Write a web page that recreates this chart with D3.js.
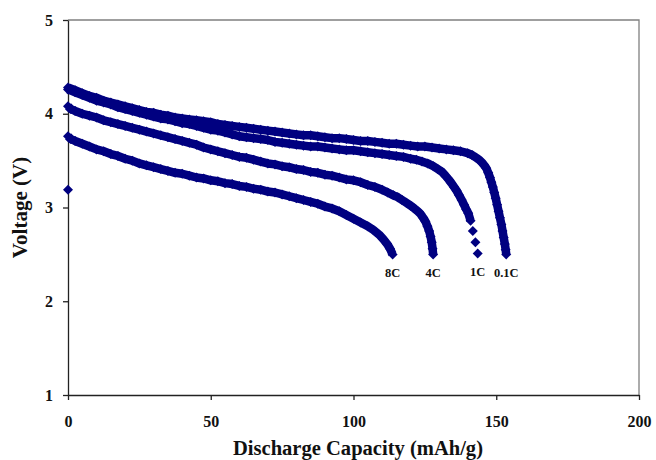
<!DOCTYPE html>
<html>
<head>
<meta charset="utf-8">
<script src="https://cdn.jsdelivr.net/npm/d3@7"></script>
<style>
	body { margin: 0; background: #fff; }
	svg { display: block; }
</style>
</head>
<body>
<script>
// discharge curves, [capacity mAh/g, voltage V]
const rate01C = [
	[0, 4.28], [2.5, 4.25], [5, 4.22], [7.5, 4.19], [10, 4.17], [12.5, 4.14], [15, 4.12], [17.5, 4.10],
	[20, 4.08], [22.5, 4.06], [25, 4.04], [27.5, 4.02], [30, 4.01], [32.5, 3.99], [35, 3.98], [37.5, 3.96],
	[40, 3.95], [42.5, 3.94], [45, 3.93], [47.5, 3.92], [50, 3.91], [52.5, 3.89], [55, 3.88], [57.5, 3.87],
	[60, 3.86], [62.5, 3.85], [65, 3.84], [67.5, 3.83], [70, 3.82], [72.5, 3.81], [75, 3.80], [77.5, 3.79],
	[80, 3.78], [82.5, 3.77], [85, 3.77], [87.5, 3.76], [90, 3.75], [92.5, 3.74], [95, 3.74], [97.5, 3.73],
	[100, 3.72], [102.5, 3.71], [105, 3.71], [107.5, 3.70], [110, 3.69], [112.5, 3.68], [115, 3.68], [117.5, 3.67],
	[120, 3.66], [122.5, 3.65], [125, 3.65], [127.5, 3.64], [130, 3.63], [132.5, 3.62], [135, 3.61], [137.5, 3.60],
	[140, 3.58], [141.5, 3.56], [143, 3.53], [144, 3.51], [145, 3.48], [145.8, 3.45], [146.5, 3.42], [147.2, 3.37],
	[147.8, 3.32], [148.3, 3.27], [148.8, 3.22], [149.3, 3.16], [149.8, 3.10], [150.3, 3.03], [150.8, 2.96],
	[151.3, 2.89], [151.8, 2.82], [152.2, 2.75], [152.6, 2.68], [153, 2.61], [153.3, 2.55], [153.5, 2.50]
];
const rate1C = [
	[0, 4.26], [2.5, 4.23], [5, 4.20], [7.5, 4.17], [10, 4.14], [12.5, 4.12], [15, 4.10], [17.5, 4.07],
	[20, 4.05], [22.5, 4.03], [25, 4.01], [27.5, 3.99], [30, 3.97], [32.5, 3.95], [35, 3.94], [37.5, 3.92],
	[40, 3.90], [42.5, 3.89], [45, 3.87], [47.5, 3.85], [50, 3.83], [52.5, 3.82], [55, 3.80], [57.5, 3.78],
	[60, 3.76], [62.5, 3.75], [65, 3.74], [67.5, 3.73], [70, 3.72], [72.5, 3.70], [75, 3.69], [77.5, 3.68],
	[80, 3.67], [82.5, 3.66], [85, 3.65], [87.5, 3.65], [90, 3.64], [92.5, 3.63], [95, 3.62], [97.5, 3.61],
	[100, 3.61], [102.5, 3.60], [105, 3.59], [107.5, 3.58], [110, 3.57], [112.5, 3.56], [115, 3.55], [117.5, 3.54],
	[120, 3.52], [122, 3.51], [124, 3.49], [126, 3.47], [128, 3.44], [129.5, 3.41], [131, 3.38], [132.2, 3.34],
	[133.3, 3.30], [134.3, 3.26], [135.2, 3.22], [136.1, 3.18], [137, 3.13], [137.9, 3.08], [138.7, 3.03],
	[139.5, 2.98], [140.2, 2.94], [141, 2.86], [141.8, 2.75], [142.7, 2.63], [143.5, 2.51]
];
const rate4C = [
	[0, 4.08], [1, 4.05], [2.5, 4.03], [5, 4.00], [7.5, 3.98], [10, 3.96], [12.5, 3.93], [15, 3.91],
	[17.5, 3.89], [20, 3.87], [22.5, 3.85], [25, 3.83], [27.5, 3.81], [30, 3.79], [32.5, 3.77], [35, 3.75],
	[37.5, 3.73], [40, 3.71], [42.5, 3.69], [45, 3.67], [47.5, 3.64], [50, 3.62], [52.5, 3.60], [55, 3.58],
	[57.5, 3.56], [60, 3.54], [62.5, 3.53], [65, 3.51], [67.5, 3.49], [70, 3.47], [72.5, 3.46], [75, 3.44],
	[77.5, 3.43], [80, 3.41], [82.5, 3.40], [85, 3.38], [87.5, 3.37], [90, 3.35], [92.5, 3.34], [95, 3.32],
	[97.5, 3.30], [100, 3.29], [102.5, 3.27], [105, 3.24], [107.5, 3.22], [110, 3.19], [112, 3.16], [114, 3.13],
	[115.5, 3.11], [117, 3.08], [118.5, 3.05], [120, 3.02], [121.3, 2.99], [122.5, 2.96], [123.5, 2.93],
	[124.4, 2.89], [125.2, 2.85], [125.9, 2.80], [126.5, 2.75], [127, 2.69], [127.4, 2.63], [127.7, 2.56], [127.9, 2.50]
];
const rate8C = [
	[0, 3.19], [0, 3.76], [1, 3.73], [2.5, 3.71], [5, 3.68], [7.5, 3.65], [10, 3.62], [12.5, 3.60], [15, 3.57],
	[17.5, 3.55], [20, 3.52], [22.5, 3.50], [25, 3.47], [27.5, 3.45], [30, 3.43], [32.5, 3.41], [35, 3.39],
	[37.5, 3.37], [40, 3.36], [42.5, 3.34], [45, 3.32], [47.5, 3.31], [50, 3.29], [52.5, 3.28], [55, 3.26],
	[57.5, 3.25], [60, 3.23], [62.5, 3.22], [65, 3.20], [67.5, 3.19], [70, 3.17], [72.5, 3.16], [75, 3.14],
	[77.5, 3.12], [80, 3.10], [82.5, 3.08], [85, 3.06], [87.5, 3.04], [90, 3.01], [92.5, 2.99], [95, 2.96],
	[97.5, 2.92], [100, 2.88], [102.5, 2.84], [105, 2.80], [107, 2.76], [109, 2.71], [110.5, 2.66],
	[111.8, 2.61], [112.8, 2.56], [113.7, 2.50]
];
const seriesList = [rate01C, rate1C, rate4C, rate8C];
const rateLabels = ['0.1C', '1C', '4C', '8C'];
const xTicks = [0, 50, 100, 150, 200];
const yTicks = [1, 2, 3, 4, 5];

const width = 656;
const height = 460;
const plotLeft = 68;
const plotRight = 639;
const plotTop = 20;
const plotBottom = 395;
const markerR = 5;
const navy = '#000080';
const serif = '"Liberation Serif", "Times New Roman", serif';

const svg = d3.select('body')
	.append('svg')
	.attr('width', width)
	.attr('height', height);

const xScale = d3.scaleLinear().domain([0, 200]).range([plotLeft, plotRight]);
const yScale = d3.scaleLinear().domain([1, 5]).range([plotBottom, plotTop]);

// plot frame (top / right in grey)
svg.append('path')
	.attr('d', `M${plotLeft},${plotTop}H${plotRight}V${plotBottom}`)
	.attr('fill', 'none')
	.attr('stroke', '#808080')
	.attr('stroke-width', 1.3);

const xAxis = d3.axisBottom(xScale).tickValues(xTicks).tickSize(5).tickSizeOuter(0).tickPadding(16);
const yAxis = d3.axisLeft(yScale).tickValues(yTicks).tickFormat(d3.format('d')).tickSize(5).tickSizeOuter(0).tickPadding(10);

const xAxisSel = svg.append('g')
	.attr('transform', 'translate(0,' + plotBottom + ')')
	.call(xAxis);
const yAxisSel = svg.append('g')
	.attr('transform', 'translate(' + plotLeft + ',0)')
	.call(yAxis);

[xAxisSel, yAxisSel].forEach((sel) => {
	sel.select('.domain').attr('stroke', '#222').attr('stroke-width', 1.3);
	sel.selectAll('.tick line').attr('stroke', '#222').attr('stroke-width', 1.3);
	sel.selectAll('.tick text')
		.attr('fill', '#111')
		.style('font-family', serif)
		.style('font-weight', 'bold')
		.style('font-size', '16px');
});

// markers sit so close together that they merge into a band;
// join neighbours that touch on screen, leave the spread-out ones single
const line = d3.line().x((d) => xScale(d[0])).y((d) => yScale(d[1]));
function touchingRuns(series) {
	const runs = [];
	let run = [series[0]];
	for (let i = 1; i < series.length; i++) {
		const a = series[i - 1];
		const b = series[i];
		const dist = Math.hypot(xScale(b[0]) - xScale(a[0]), yScale(b[1]) - yScale(a[1]));
		if (dist < 2 * markerR - 1.5) {
			run.push(b);
		} else {
			if (run.length > 1) runs.push(run);
			run = [b];
		}
	}
	if (run.length > 1) runs.push(run);
	return runs;
}

const diamond = `M0,${-markerR}L${markerR},0L0,${markerR}L${-markerR},0Z`;

seriesList.forEach((series) => {
	const g = svg.append('g');
	g.selectAll('path.band')
		.data(touchingRuns(series))
		.enter()
		.append('path')
		.attr('class', 'band')
		.attr('d', line)
		.attr('fill', 'none')
		.attr('stroke', navy)
		.attr('stroke-width', 8.5)
		.attr('stroke-linejoin', 'round');
	g.selectAll('path.marker')
		.data(series)
		.enter()
		.append('path')
		.attr('class', 'marker')
		.attr('d', diamond)
		.attr('transform', (d) => 'translate(' + xScale(d[0]) + ',' + yScale(d[1]) + ')')
		.attr('fill', navy);
});

// rate labels under the end of each curve
seriesList.forEach((series, i) => {
	const last = series[series.length - 1];
	svg.append('text')
		.attr('x', xScale(last[0]))
		.attr('y', yScale(last[1]) + 18)
		.attr('dy', '0.35em')
		.attr('text-anchor', 'middle')
		.style('font-family', serif)
		.style('font-weight', 'bold')
		.style('font-size', '12.5px')
		.attr('fill', '#111')
		.text(rateLabels[i]);
});

svg.append('text')
	.attr('x', 358)
	.attr('y', 455)
	.attr('text-anchor', 'middle')
	.attr('textLength', 250)
	.attr('lengthAdjust', 'spacingAndGlyphs')
	.style('font-family', serif)
	.style('font-weight', 'bold')
	.style('font-size', '20px')
	.attr('fill', '#111')
	.text('Discharge Capacity (mAh/g)');

svg.append('text')
	.attr('transform', 'translate(27,' + (plotTop + plotBottom) / 2 + ') rotate(-90)')
	.attr('text-anchor', 'middle')
	.style('font-family', serif)
	.style('font-weight', 'bold')
	.style('font-size', '21px')
	.attr('fill', '#111')
	.text('Voltage (V)');
</script>
</body>
</html>
